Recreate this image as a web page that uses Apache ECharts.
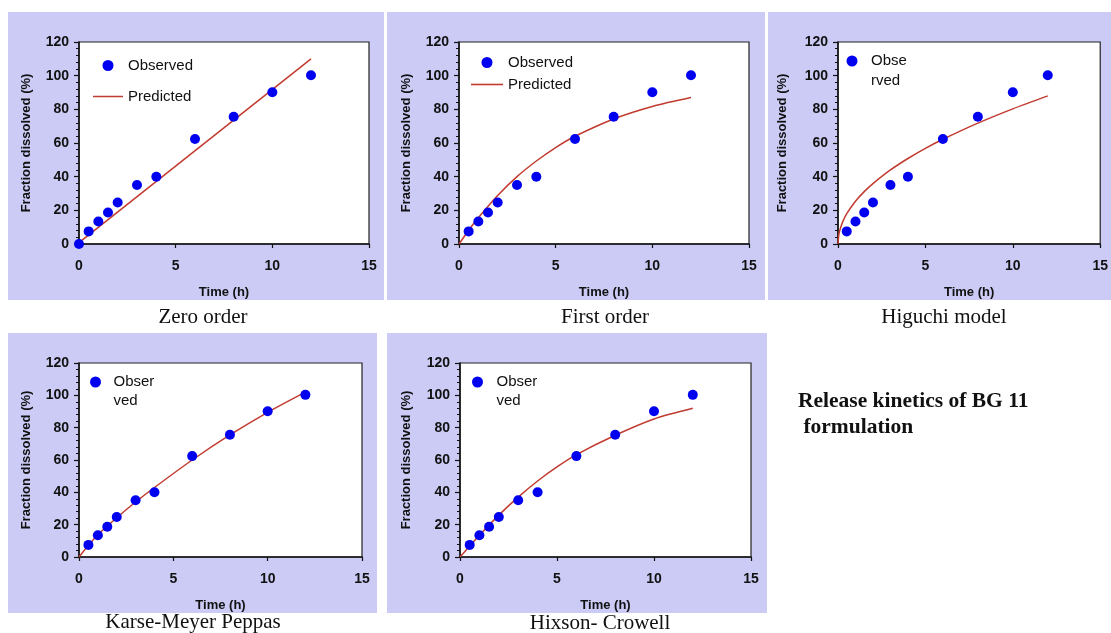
<!DOCTYPE html>
<html><head><meta charset="utf-8">
<script src="https://cdn.jsdelivr.net/npm/echarts@6/dist/echarts.min.js"></script>
<style>html,body{margin:0;padding:0;background:#fff}#c{width:1111px;height:633px}</style>
</head><body><div id="c"></div>
<script>
// ---- data ----
const panelTitles = ['Zero order', 'First order', 'Higuchi model', 'Karse-Meyer Peppas', 'Hixson- Crowell'];
const timeObs = [0, 0.5, 1, 1.5, 2, 3, 4, 6, 8, 10, 12];
const fracObs = [0, 7.5, 13.4, 18.7, 24.7, 35.1, 40, 62.4, 75.6, 90.2, 100.3];
const zeroT = [0, 12];
const zeroF = [0.8, 110];
const firstT = [0, 0.5, 1, 2, 3, 4, 5, 6, 8, 10, 12];
const firstF = [0, 8.2, 15.6, 28.8, 40, 49.3, 57.3, 64, 74.3, 81.7, 87];
const higT = [0, 0.05, 0.1, 0.25, 0.5, 1, 1.5, 2, 3, 4, 5, 6, 8, 10, 12];
const higF = [0, 5.7, 8.0, 12.7, 18.0, 25.4, 31.1, 35.9, 44.0, 50.8, 56.8, 62.2, 71.8, 80.3, 88.0];
const kpT = [0, 0.5, 1, 2, 3, 4, 6, 8, 10, 12];
const kpF = [0, 7.3, 13.8, 24.3, 34, 43, 60, 75.5, 89.5, 102];
const hcT = [0, 1, 2, 3, 4, 5, 6, 8, 10, 12];
const hcF = [0, 13.5, 25.9, 37, 47, 55.7, 63.3, 75.3, 85.4, 92];
const xTicks = [0, 5, 10, 15];
const yTicks = [0, 20, 40, 60, 80, 100, 120];
const xName = 'Time (h)';
const yName = 'Fraction dissolved (%)';
const sideNote = ['Release kinetics of BG 11', ' formulation'];

// ---- layout ----
const zip = (a, b) => a.map((v, i) => [v, b[i]]);
const grids = [
  {left: 79, top: 42, width: 290, height: 202},
  {left: 459, top: 42, width: 290, height: 202},
  {left: 838, top: 42, width: 264, height: 202},
  {left: 79, top: 363, width: 283, height: 194},
  {left: 460, top: 363, width: 291, height: 194}
];
const panels = [
  {x: 8, y: 12, w: 376, h: 288},
  {x: 387, y: 12, w: 378, h: 288},
  {x: 768, y: 12, w: 343, h: 288},
  {x: 8, y: 333, w: 369, h: 280},
  {x: 387, y: 333, w: 380, h: 280}
];
const titlePos = [[203, 317], [605, 317], [944, 317], [193, 622], [600, 623]];
const yNameGap = [46, 46, 49, 46, 47];
const predicted = [zip(zeroT, zeroF), zip(firstT, firstF), zip(higT, higF), zip(kpT, kpF), zip(hcT, hcF)];
const obsPoints = zip(timeObs, fracObs);

const BLUE = '#0000f0', RED = '#c23b30', INK = '#111';
const tickFont = {color: INK, fontFamily: 'Liberation Sans, Arial, sans-serif', fontWeight: 'bold', fontSize: 14};
const lineIcon = 'path://M0,0h30v1.5h-30z';

const option = {
  animation: false,
  backgroundColor: '#fff',
  grid: grids.map(g => Object.assign({show: true, backgroundColor: '#fff', borderColor: '#222', borderWidth: 1.2, containLabel: false}, g)),
  xAxis: grids.map((g, i) => ({
    gridIndex: i, type: 'value', min: 0, max: 15, interval: 5,
    axisLine: {show: true, onZero: false, lineStyle: {color: INK, width: 1.5}},
    axisTick: {show: true, inside: false, length: 4, lineStyle: {color: INK, width: 1.2}},
    splitLine: {show: false},
    axisLabel: Object.assign({margin: 15, formatter: v => xTicks.includes(v) ? String(v) : ''}, tickFont),
    name: xName, nameLocation: 'middle', nameGap: 42,
    nameTextStyle: {color: INK, fontFamily: 'Liberation Sans, Arial, sans-serif', fontWeight: 'bold', fontSize: 13}
  })),
  yAxis: grids.map((g, i) => ({
    gridIndex: i, type: 'value', min: 0, max: 120, interval: 20,
    axisLine: {show: true, onZero: false, lineStyle: {color: INK, width: 1.5}},
    axisTick: {show: true, inside: false, length: 5, lineStyle: {color: INK, width: 1.2}},
    minorTick: {show: true, splitNumber: 5, length: 3, lineStyle: {color: INK, width: 1}},
    splitLine: {show: false},
    axisLabel: Object.assign({margin: 10, formatter: v => yTicks.includes(v) ? String(v) : ''}, tickFont),
    name: yName, nameLocation: 'middle', nameGap: yNameGap[i], nameRotate: 90,
    nameTextStyle: {color: INK, fontFamily: 'Liberation Sans, Arial, sans-serif', fontWeight: 'bold', fontSize: 13}
  })),
  legend: [],
  series: [],
  graphic: []
};

grids.forEach((g, i) => {
  option.series.push({
    name: 'Observed', type: 'scatter', xAxisIndex: i, yAxisIndex: i,
    data: i === 0 ? obsPoints : obsPoints.slice(1),
    symbol: 'circle', symbolSize: 10, itemStyle: {color: BLUE, opacity: 1}, z: 3
  });
  option.series.push({
    name: 'Predicted', type: 'line', xAxisIndex: i, yAxisIndex: i,
    data: predicted[i], smooth: i === 0 ? false : 0.3, symbol: 'none', showSymbol: false,
    lineStyle: {color: RED, width: 1.5}, itemStyle: {color: RED}, z: 2
  });
});

const legFont = {color: INK, fontFamily: 'Liberation Sans, Arial, sans-serif', fontSize: 15};
option.legend.push({
  orient: 'vertical', left: 93, top: 58, padding: 0, itemWidth: 30, itemHeight: 11, itemGap: 16,
  selectedMode: false, textStyle: legFont,
  data: [{name: 'Observed', icon: 'circle'}, {name: 'Predicted', icon: lineIcon}]
});
option.legend.push({
  orient: 'vertical', left: 471, top: 55, padding: 0, itemWidth: 32, itemHeight: 11, itemGap: 7,
  selectedMode: false, textStyle: legFont,
  data: [{name: 'Observed', icon: 'circle'}, {name: 'Predicted', icon: lineIcon}]
});
const splitLeg = [
  {left: 846.5, dotY: 61, w: 28, lh: 20, txt: '\u00a0\nObse\nrved'},
  {left: 90, dotY: 382, w: 26, lh: 19, txt: '\u00a0\nObser\nved'},
  {left: 472, dotY: 382, w: 28, lh: 19, txt: '\u00a0\nObser\nved'}
];
splitLeg.forEach(s => {
  option.legend.push({
    orient: 'vertical', left: s.left, top: s.dotY - 1.5 * s.lh, padding: 0, itemWidth: s.w, itemHeight: 11,
    selectedMode: false, formatter: () => s.txt,
    textStyle: Object.assign({lineHeight: s.lh}, legFont),
    data: [{name: 'Observed', icon: 'circle'}]
  });
});

panels.forEach(p => {
  option.graphic.push({type: 'rect', silent: true, z: -100, shape: {x: p.x, y: p.y, width: p.w, height: p.h}, style: {fill: '#cbcbf6'}});
});
panelTitles.forEach((t, i) => {
  option.graphic.push({type: 'text', silent: true, z: 10, style: {
    text: t, x: titlePos[i][0], y: titlePos[i][1], textAlign: 'center', textVerticalAlign: 'middle',
    font: '21px "Liberation Serif", "Times New Roman", serif', fill: '#111'}});
});
option.graphic.push({type: 'text', silent: true, z: 10, style: {
  text: sideNote[0], x: 798, y: 401, textVerticalAlign: 'middle',
  font: 'bold 21.5px "Liberation Serif", "Times New Roman", serif', fill: '#111'}});
option.graphic.push({type: 'text', silent: true, z: 10, style: {
  text: sideNote[1], x: 798, y: 427, textVerticalAlign: 'middle',
  font: 'bold 21.5px "Liberation Serif", "Times New Roman", serif', fill: '#111'}});

const chart = echarts.init(document.getElementById('c'), null, {renderer: 'canvas'});
chart.setOption(option);
</script>
</body></html>
